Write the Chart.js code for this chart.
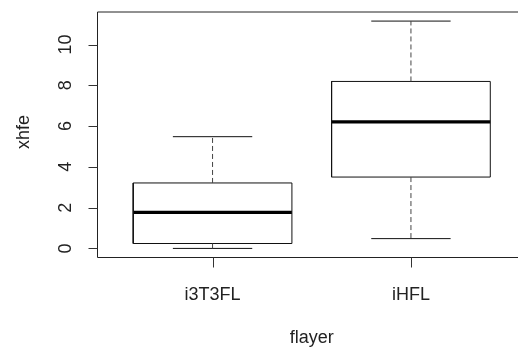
<!DOCTYPE html>
<html>
<head>
<meta charset="utf-8">
<script src="https://cdn.jsdelivr.net/npm/chart.js@4"></script>
<style>
  html, body { margin: 0; padding: 0; background: #ffffff; overflow: hidden; }
  #wrap { width: 526px; height: 349px; }
</style>
</head>
<body>
<div id="wrap"><canvas id="c" width="526" height="349"></canvas></div>
<script>
// Five-number summaries per group
const categories = ['i3T3FL', 'iHFL'];
const whiskerLow  = [0.0, 0.48];
const quartile1   = [0.24, 3.50];
const medians     = [1.77, 6.21];
const quartile3   = [3.21, 8.19];
const whiskerHigh = [5.48, 11.15];
const yTicks = [0, 2, 4, 6, 8, 10];
const xTitle = 'flayer';
const yTitle = 'xhfe';

const FONT = '18px "Liberation Sans", Arial, sans-serif';
const BOX_HALF = 0.4;
const CAP_HALF = 0.2;

// axis limits: data range padded by 4% on each side
const lo = Math.min(...whiskerLow), hi = Math.max(...whiskerHigh);
const yPad = 0.04 * (hi - lo);
const xPad = 0.04 * categories.length;

function seg(points, extra) {
  return Object.assign({
    data: points.map(([x, y]) => ({ x, y })),
    showLine: true,
    pointRadius: 0,
    borderColor: '#111111',
    borderWidth: 1,
    borderJoinStyle: 'miter',
    borderCapStyle: 'butt',
    fill: false,
    tension: 0,
    clip: false
  }, extra || {});
}

const datasets = [];
categories.forEach((cat, i) => {
  const c = i + 1;
  // dashed whiskers
  datasets.push(seg([[c, quartile3[i]], [c, whiskerHigh[i]]], { borderDash: [5, 3], borderColor: '#444444' }));
  datasets.push(seg([[c, quartile1[i]], [c, whiskerLow[i]]], { borderDash: [5, 3], borderColor: '#444444' }));
  // caps
  datasets.push(seg([[c - CAP_HALF, whiskerHigh[i]], [c + CAP_HALF, whiskerHigh[i]]]));
  datasets.push(seg([[c - CAP_HALF, whiskerLow[i]], [c + CAP_HALF, whiskerLow[i]]]));
  // box
  datasets.push(seg([
    [c - BOX_HALF, quartile1[i]], [c + BOX_HALF, quartile1[i]],
    [c + BOX_HALF, quartile3[i]], [c - BOX_HALF, quartile3[i]],
    [c - BOX_HALF, quartile1[i]]
  ]));
  // median
  datasets.push(seg([[c - BOX_HALF, medians[i]], [c + BOX_HALF, medians[i]]], { borderWidth: 3.2, borderColor: '#000000' }));
});

// base-graphics style frame, ticks and titles
const rAxes = {
  id: 'rAxes',
  afterDraw(chart) {
    const ctx = chart.ctx;
    const a = chart.chartArea;
    const xs = chart.scales.x, ys = chart.scales.y;
    ctx.save();
    ctx.strokeStyle = '#222222';
    ctx.lineWidth = 1;
    ctx.beginPath();
    ctx.moveTo(a.left, 12);
    ctx.lineTo(a.right, 12);
    ctx.moveTo(a.left, a.top);
    ctx.lineTo(a.left, a.bottom);
    ctx.lineTo(a.right, a.bottom);
    ctx.stroke();

    ctx.fillStyle = '#222222';
    ctx.font = FONT;

    // y ticks and rotated labels
    ctx.strokeStyle = '#333333';
    yTicks.forEach(v => {
      const y = Math.round(ys.getPixelForValue(v)) + 0.5;
      ctx.beginPath();
      ctx.moveTo(a.left - 9, y);
      ctx.lineTo(a.left, y);
      ctx.stroke();
      ctx.save();
      ctx.translate(70.5, ys.getPixelForValue(v));
      ctx.rotate(-Math.PI / 2);
      ctx.textAlign = 'center';
      ctx.textBaseline = 'alphabetic';
      ctx.fillText(String(v), 0, 0);
      ctx.restore();
    });

    // x ticks and labels
    categories.forEach((cat, i) => {
      const x = Math.round(xs.getPixelForValue(i + 1)) + 0.5;
      ctx.beginPath();
      ctx.moveTo(x, a.bottom);
      ctx.lineTo(x, a.bottom + 10);
      ctx.stroke();
      ctx.textAlign = 'center';
      ctx.textBaseline = 'alphabetic';
      ctx.fillText(cat, xs.getPixelForValue(i + 1), 300);
    });

    // titles
    ctx.textAlign = 'center';
    ctx.fillText(xTitle, (a.left + a.right) / 2, 343);
    ctx.save();
    ctx.translate(28.5, 132);
    ctx.rotate(-Math.PI / 2);
    ctx.fillText(yTitle, 0, 0);
    ctx.restore();
    ctx.restore();
  }
};

new Chart(document.getElementById('c'), {
  type: 'scatter',
  data: { datasets },
  options: {
    responsive: false,
    animation: false,
    events: [],
    layout: { padding: { left: 97.5, top: 12, right: 0, bottom: 91.5 } },
    plugins: { legend: { display: false }, tooltip: { enabled: false } },
    scales: {
      x: { type: 'linear', display: false, min: 0.5 - xPad, max: categories.length + 0.5 + xPad },
      y: { type: 'linear', display: false, min: lo - yPad, max: hi + yPad }
    }
  },
  plugins: [rAxes]
});
</script>
</body>
</html>
